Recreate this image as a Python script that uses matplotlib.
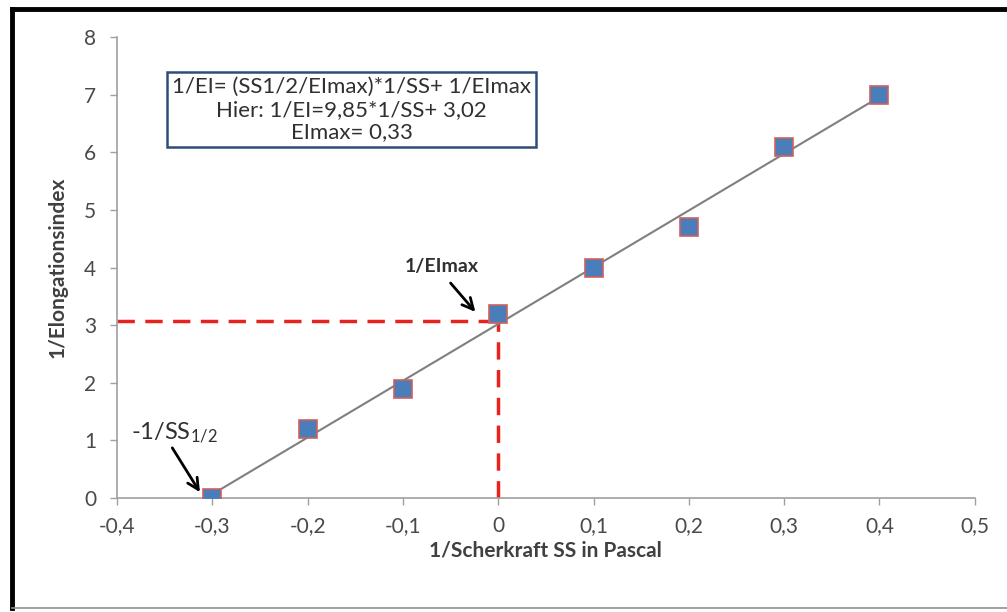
import matplotlib.pyplot as plt
from matplotlib.lines import Line2D
import numpy as np

plt.rcParams['font.family'] = ['Lato', 'DejaVu Sans']

# Daten
inv_ss = [-0.3, -0.2, -0.1, 0.0, 0.1, 0.2, 0.3, 0.4]
inv_ei = [0.0, 1.2, 1.9, 3.2, 4.0, 4.7, 6.1, 7.0]
slope = 9.85
intercept = 3.02
dash_y = 3.07
xticks = [-0.4, -0.3, -0.2, -0.1, 0.0, 0.1, 0.2, 0.3, 0.4, 0.5]
yticks = [0, 1, 2, 3, 4, 5, 6, 7, 8]

fig = plt.figure(figsize=(10.07, 6.12), dpi=100)
ax = fig.add_axes([0.1162, 0.1863, 0.8518, 0.7532])

# Rahmen um die Grafik (oben und links schwarz, unten grau)
fig.add_artist(Line2D([0.0115, 1.0], [0.985, 0.985], transform=fig.transFigure, color='black', lw=3.5))
fig.add_artist(Line2D([0.0115, 0.0115], [0.006, 0.985], transform=fig.transFigure, color='black', lw=3.5))
fig.add_artist(Line2D([0.0115, 1.0], [0.006, 0.006], transform=fig.transFigure, color='#909090', lw=1.2))

# Regressionsgerade
xl = np.array([inv_ss[0], inv_ss[-1]])
ax.plot(xl, slope * xl + intercept, color='#7f7f7f', linewidth=1.5, zorder=2)

# gestrichelte Hilfslinien
ax.plot([-0.4, 0.0], [dash_y, dash_y], color='#e52420', linestyle=(0, (5, 3)), linewidth=2.5, zorder=1)
ax.plot([0.0, 0.0], [0, dash_y], color='#e52420', linestyle=(0, (5, 3)), linewidth=2.5, zorder=1)

# Messpunkte
ax.plot(inv_ss, inv_ei, linestyle='none', marker='s', markersize=13.5,
        markerfacecolor='#4a7ebb', markeredgecolor='#d0605d', markeredgewidth=1.2, zorder=3)

ax.set_xlim(-0.4, 0.5)
ax.set_ylim(0, 8)
ax.set_xticks(xticks)
ax.set_xticklabels(['0' if v == 0 else f'{v:.1f}'.replace('.', ',') for v in xticks])
ax.set_yticks(yticks)

for s in ['top', 'right']:
    ax.spines[s].set_visible(False)
for s in ['left', 'bottom']:
    ax.spines[s].set_color('#a0a0a0')
    ax.spines[s].set_linewidth(1.2)
ax.tick_params(colors='#a0a0a0', labelcolor='#4a4a4a', labelsize=15, length=5, width=1)
ax.tick_params(axis='x', pad=8)
ax.tick_params(axis='y', pad=10)

ax.set_xlabel('1/Scherkraft SS in Pascal', fontsize=15, fontweight='bold', color='#404040', labelpad=3)
ax.set_ylabel('1/Elongationsindex', fontsize=15, fontweight='bold', color='#404040', labelpad=12)

# Textbox mit Gleichung
ax.text(-0.154, 6.74, '1/EI= (SS1/2/EImax)*1/SS+ 1/EImax\nHier: 1/EI=9,85*1/SS+ 3,02\nEImax= 0,33',
        ha='center', va='center', fontsize=16, color='#303030', linespacing=1.15,
        bbox=dict(boxstyle='square,pad=0.22', facecolor='white', edgecolor='#2e4d7a', linewidth=1.8))

# Beschriftungen mit Pfeilen
ax.text(-0.059, 4.01, '1/EImax', ha='center', va='center', fontsize=14, fontweight='bold', color='#303030')
ax.annotate('', xy=(-0.024, 3.23), xytext=(-0.050, 3.73),
            arrowprops=dict(arrowstyle='->', color='black', lw=2, shrinkA=0, shrinkB=0, mutation_scale=20))
ax.text(-0.340, 1.13, r'-1/SS$\mathregular{_{1/2}}$', ha='center', va='center', fontsize=17, color='#303030')
ax.annotate('', xy=(-0.313, 0.10), xytext=(-0.342, 0.87),
            arrowprops=dict(arrowstyle='->', color='black', lw=2, shrinkA=0, shrinkB=0, mutation_scale=20))

fig.savefig('out.png', dpi=100, facecolor='white')
